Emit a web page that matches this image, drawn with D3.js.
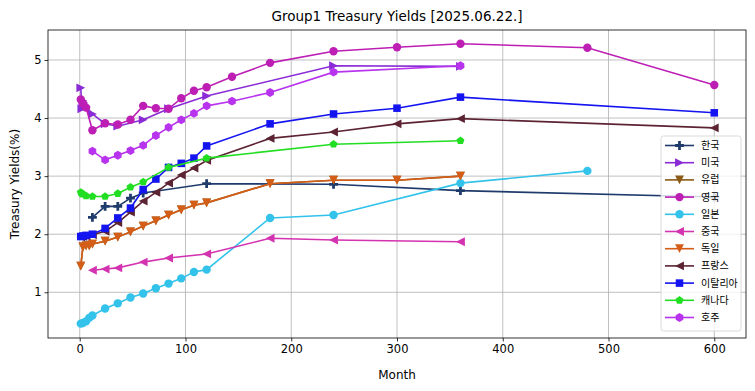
<!DOCTYPE html>
<html><head><meta charset="utf-8">
<script src="https://cdn.jsdelivr.net/npm/d3@7"></script>
<style>body{margin:0;background:#fff}svg{display:block}</style>
</head><body><div id="chart"></div>
<script>
const chartTitle = "Group1 Treasury Yields [2025.06.22.]";
const xTicks = [0, 100, 200, 300, 400, 500, 600];
const yTicks = [1, 2, 3, 4, 5];

const seriesNames = ["한국","미국","유럽","영국","일본","중국","독일","프랑스","이탈리아","캐나다","호주"];

const krMonths = [12,24,36,48,60,120,240,360,600];
const krYields = [2.29,2.48,2.48,2.62,2.71,2.87,2.86,2.75,2.64];
const usMonths = [1,2,3,4,6,12,24,36,60,84,120,240,360];
const usYields = [4.52,4.16,4.30,4.26,4.20,4.07,3.90,3.86,3.97,4.16,4.38,4.90,4.89];
const euMonths = [1,3,6,9,12,24,36,48,60,72,84,96,108,120,180,240,300,360];
const euYields = [1.45,1.78,1.80,1.80,1.83,1.88,1.95,2.04,2.14,2.23,2.33,2.42,2.50,2.54,2.87,2.93,2.93,3.00];
const ukMonths = [1,3,6,12,24,36,48,60,72,84,96,108,120,144,180,240,300,360,480,600];
const ukYields = [4.32,4.25,4.18,3.79,3.91,3.89,3.97,4.21,4.17,4.16,4.34,4.47,4.53,4.71,4.95,5.15,5.22,5.28,5.21,4.57];
const jpMonths = [1,3,6,9,12,24,36,48,60,72,84,96,108,120,180,240,360,480];
const jpYields = [0.46,0.47,0.50,0.56,0.60,0.72,0.81,0.91,0.98,1.07,1.15,1.24,1.35,1.39,2.28,2.33,2.88,3.09];
const cnMonths = [12,24,36,60,84,120,180,240,360];
const cnYields = [1.38,1.40,1.42,1.52,1.59,1.66,1.93,1.90,1.87];
const deMonths = [1,3,6,9,12,24,36,48,60,72,84,96,108,120,180,240,300,360];
const deYields = [1.45,1.78,1.80,1.80,1.83,1.88,1.95,2.04,2.14,2.23,2.33,2.42,2.50,2.54,2.87,2.93,2.93,3.00];
const frMonths = [1,3,6,12,24,36,48,60,72,84,96,108,120,180,240,300,360,600];
const frYields = [1.95,1.96,1.97,1.99,2.05,2.20,2.38,2.57,2.72,2.88,3.02,3.14,3.27,3.65,3.76,3.90,3.99,3.83];
const itMonths = [1,3,6,12,24,36,48,60,72,84,96,108,120,180,240,300,360,600];
const itYields = [1.96,1.97,1.98,2.00,2.10,2.28,2.45,2.77,2.95,3.15,3.22,3.31,3.52,3.90,4.07,4.17,4.36,4.09];
const caMonths = [1,2,3,6,12,24,36,48,60,84,120,240,360];
const caYields = [2.72,2.70,2.69,2.66,2.65,2.65,2.70,2.81,2.90,3.15,3.31,3.55,3.61];
const auMonths = [12,24,36,48,60,72,84,96,108,120,144,180,240,360];
const auYields = [3.43,3.28,3.36,3.44,3.53,3.70,3.84,3.97,4.08,4.21,4.29,4.44,4.79,4.90];

const seriesColors = ["#1f3b6b","#8a2bd6","#8b5a14","#bd1fb5","#33c2ea","#d433b0","#d45d18","#5c2333","#1414f0","#22de22","#b833ee"];
const seriesMarkers = ["plus","tri-right","tri-down","circle","circle","tri-left","tri-down","tri-left","square","pentagon","hexagon"];

const monthsList = [krMonths,usMonths,euMonths,ukMonths,jpMonths,cnMonths,deMonths,frMonths,itMonths,caMonths,auMonths];
const yieldsList = [krYields,usYields,euYields,ukYields,jpYields,cnYields,deYields,frYields,itYields,caYields,auYields];

const series = seriesNames.map((n,i)=>({name:n,color:seriesColors[i],marker:seriesMarkers[i],
  pts:monthsList[i].map((m,j)=>({m:m,v:yieldsList[i][j]}))}));

const W=755,H=391;
const L=48,R=746,T=30,B=338;
const x=d3.scaleLinear().domain([-30,630]).range([L,R]);
const y=d3.scaleLinear().domain([0.213,5.516]).range([B,T]);

const svg=d3.select("#chart").append("svg").attr("width",W).attr("height",H);
svg.append("rect").attr("width",W).attr("height",H).attr("fill","#fff");

const font="DejaVu Sans, sans-serif";
const g=svg.append("g");
g.selectAll(".gx").data(xTicks).join("line").attr("x1",d=>x(d)).attr("x2",d=>x(d)).attr("y1",T).attr("y2",B)
 .attr("stroke","#b0b0b0").attr("stroke-width",0.8);
g.selectAll(".gy").data(yTicks).join("line").attr("y1",d=>y(d)).attr("y2",d=>y(d)).attr("x1",L).attr("x2",R)
 .attr("stroke","#b0b0b0").attr("stroke-width",0.8);

const xAxis=svg.append("g").attr("transform",`translate(0,${B})`)
 .call(d3.axisBottom(x).tickValues(xTicks).tickSize(3.5).tickPadding(3).tickFormat(d3.format("d")));
const yAxis=svg.append("g").attr("transform",`translate(${L},0)`)
 .call(d3.axisLeft(y).tickValues(yTicks).tickSize(3.5).tickPadding(3).tickFormat(d3.format("d")));
[xAxis,yAxis].forEach(a=>{a.select(".domain").remove();a.selectAll("text").attr("font-family",font).attr("font-size",11.5).attr("fill","#000");
 a.selectAll("line").attr("stroke","#000").attr("stroke-width",0.8);});

function markerPath(type,s){
  const r=s;
  switch(type){
    case "circle": return d3.symbol(d3.symbolCircle,Math.PI*r*r)();
    case "square": {const h=r*0.9;return `M${-h},${-h}H${h}V${h}H${-h}Z`;}
    case "tri-down": {const h=r*1.05;return `M0,${h}L${-h},${-h}L${h},${-h}Z`;}
    case "tri-right": {const h=r*1.05;return `M${h},0L${-h},${-h}L${-h},${h}Z`;}
    case "tri-left": {const h=r*1.05;return `M${-h},0L${h},${-h}L${h},${h}Z`;}
    case "plus": {const a=r*1.05,b=r*0.33;return `M${-b},${-a}H${b}V${-b}H${a}V${b}H${b}V${a}H${-b}V${b}H${-a}V${-b}H${-b}Z`;}
    case "pentagon": {let p=[];for(let k=0;k<5;k++){const t=-Math.PI/2+k*2*Math.PI/5;p.push([r*Math.cos(t),r*Math.sin(t)]);}return "M"+p.map(q=>q.join(",")).join("L")+"Z";}
    case "hexagon": {let p=[];for(let k=0;k<6;k++){const t=-Math.PI/2+k*Math.PI/3;p.push([r*1.05*Math.cos(t),r*1.05*Math.sin(t)]);}return "M"+p.map(q=>q.join(",")).join("L")+"Z";}
  }
}

const line=d3.line().x(d=>x(d.m)).y(d=>y(d.v));
const plot=svg.append("g");
series.forEach(s=>{
  const gg=plot.append("g");
  gg.append("path").attr("d",line(s.pts)).attr("fill","none").attr("stroke",s.color).attr("stroke-width",1.6);
  gg.selectAll("path.mk").data(s.pts).join("path").attr("class","mk")
    .attr("d",markerPath(s.marker,4.2)).attr("transform",d=>`translate(${x(d.m)},${y(d.v)})`)
    .attr("fill",s.color);
});

svg.append("rect").attr("x",L).attr("y",T).attr("width",R-L).attr("height",B-T).attr("fill","none").attr("stroke","#000").attr("stroke-width",0.8);

svg.append("text").attr("x",(L+R)/2).attr("y",21).attr("text-anchor","middle").attr("font-family",font).attr("font-size",13.5).text(chartTitle);
svg.append("text").attr("x",(L+R)/2).attr("y",379).attr("text-anchor","middle").attr("font-family",font).attr("font-size",12).text("Month");
svg.append("text").attr("transform",`translate(19,${(T+B)/2}) rotate(-90)`).attr("text-anchor","middle").attr("font-family",font).attr("font-size",12).text("Treasury Yields(%)");

const lg=svg.append("g");
const lx=661,ly=136,lw=80,lh=195;
lg.append("rect").attr("x",lx).attr("y",ly).attr("width",lw).attr("height",lh).attr("rx",2.5).attr("fill","#fff").attr("fill-opacity",0.8).attr("stroke","#d0d0d0").attr("stroke-width",0.8);
series.forEach((s,i)=>{
  const yy=ly+9.5+i*17.2;
  lg.append("line").attr("x1",lx+4).attr("x2",lx+33).attr("y1",yy).attr("y2",yy).attr("stroke",s.color).attr("stroke-width",1.6);
  lg.append("path").attr("d",markerPath(s.marker,4.2)).attr("transform",`translate(${lx+18.5},${yy})`).attr("fill",s.color);
  lg.append("text").attr("x",lx+40).attr("y",yy+3.5).attr("font-family","Noto Sans CJK KR, sans-serif").attr("font-size",10).text(s.name);
});
</script></body></html>
